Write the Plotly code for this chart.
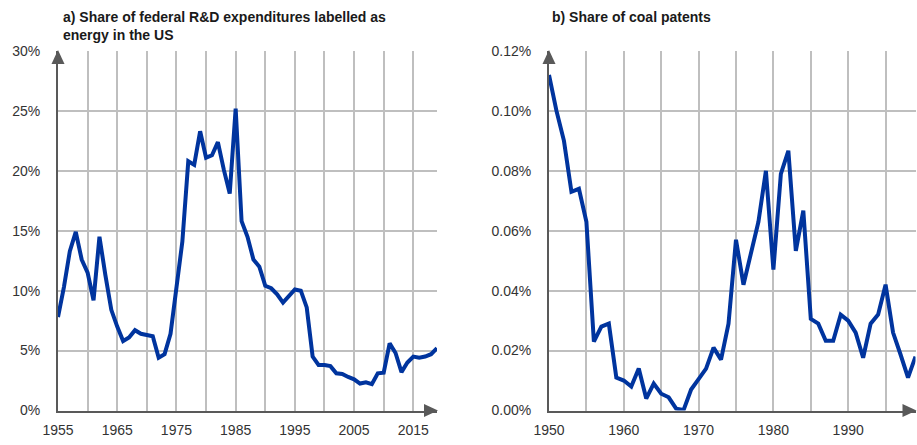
import plotly.graph_objects as go

# a) share of federal R&D expenditures labelled as energy (US), %
years_rd = list(range(1955, 2020))
share_rd = [
    7.8, 10.3, 13.3, 14.9, 12.6, 11.5, 9.2, 14.5, 11.3, 8.4,
    7.0, 5.8, 6.1, 6.7, 6.4, 6.3, 6.2, 4.4, 4.7, 6.4,
    10.5, 14.1, 20.8, 20.5, 23.3, 21.1, 21.3, 22.4, 20.1, 18.1,
    25.2, 15.8, 14.5, 12.6, 12.0, 10.4, 10.2, 9.7, 9.0, 9.5,
    10.1, 10.0, 8.6, 4.5, 3.8, 3.8, 3.7, 3.1, 3.05, 2.8,
    2.6, 2.25, 2.35, 2.2, 3.1, 3.15, 5.6, 4.8, 3.2, 4.0,
    4.5, 4.4, 4.5, 4.7, 5.2,
]

# b) share of coal patents, %
years_coal = list(range(1950, 2000))
share_coal = [
    0.112, 0.100, 0.090, 0.073, 0.074, 0.063, 0.023, 0.028, 0.029, 0.011,
    0.010, 0.008, 0.014, 0.004, 0.009, 0.0056, 0.0044, 0.0006, 0.0002, 0.007,
    0.0105, 0.014, 0.021, 0.017, 0.029, 0.057, 0.042, 0.052, 0.063, 0.080,
    0.047, 0.079, 0.0867, 0.0533, 0.0667, 0.0306, 0.029, 0.0233, 0.0233, 0.032,
    0.030, 0.026, 0.0176, 0.029, 0.032, 0.042, 0.026, 0.0187, 0.011, 0.018,
]

W, H = 917, 445
line_col = "#00349E"
grid_col = "#BFBFBF"
axis_col = "#595959"
font = "Liberation Sans, Arial, sans-serif"

# plot-area edges in pixels (body margin is removed below, so these are screen px)
L1, R1 = 58, 437
L2, R2 = 549, 915.5
TOP, BOT = 51, 410.5

fig = go.Figure()
fig.add_trace(go.Scatter(x=years_rd, y=share_rd, mode="lines",
                         line=dict(color=line_col, width=4), xaxis="x", yaxis="y"))
fig.add_trace(go.Scatter(x=years_coal, y=share_coal, mode="lines",
                         line=dict(color=line_col, width=4), xaxis="x2", yaxis="y2"))

ydom = [(H - BOT) / H, (H - TOP) / H]

def xax(dom, rng, t0, anchor):
    return dict(domain=dom, range=rng, tick0=t0, dtick=10, showgrid=True,
                gridcolor=grid_col, gridwidth=1.5, zeroline=False, anchor=anchor,
                showline=True, linecolor=axis_col, linewidth=2,
                ticks="", ticklabelstandoff=6, automargin=False,
                tickfont=dict(size=14, color="#333333"),
                minor=dict(tick0=t0, dtick=5, showgrid=True,
                           gridcolor=grid_col, gridwidth=1.5))

def yax(rng, dt, fmt, anchor):
    return dict(domain=ydom, range=rng, dtick=dt, tickformat=fmt, ticksuffix="%",
                showgrid=True, gridcolor=grid_col, gridwidth=1.5, zeroline=False,
                showline=True, linecolor=axis_col, linewidth=2, anchor=anchor,
                ticks="", ticklabelstandoff=13, automargin=False,
                tickfont=dict(size=14, color="#333333"))

fig.update_layout(
    width=W, height=H,
    margin=dict(l=0, r=0, t=0, b=0),
    paper_bgcolor="white", plot_bgcolor="white",
    showlegend=False,
    font=dict(family=font),
    xaxis=xax([L1 / W, R1 / W], [1955, 2019], 1955, "y"),
    yaxis=yax([0, 30], 5, "d", "x"),
    xaxis2=xax([L2 / W, R2 / W], [1950, 1999], 1950, "y2"),
    yaxis2=yax([0, 0.12], 0.02, ".2f", "x2"),
)

# arrowheads at the ends of the axes (paper coords == pixels / size)
def tri(pts):
    d = "M " + " L ".join(f"{px / W:.5f},{1 - py / H:.5f}" for px, py in pts) + " Z"
    fig.add_shape(type="path", xref="paper", yref="paper", path=d,
                  fillcolor=axis_col, line=dict(color=axis_col, width=0), layer="above")

for left, right in [(L1, R1), (L2, R2)]:
    tri([(right + 1, BOT), (right - 13, BOT - 6.5), (right - 13, BOT + 6.5)])
    tri([(left, TOP - 1), (left - 6.5, TOP + 13), (left + 6.5, TOP + 13)])

title_font = dict(family=font, size=14, color="#1a1a1a")
fig.add_annotation(xref="paper", yref="paper", x=61 / W, y=1 - 7 / H,
                   xanchor="left", yanchor="top", align="left", showarrow=False,
                   text="<b>a) Share of federal R&D expenditures labelled as<br>energy in the US</b>",
                   font=title_font)
fig.add_annotation(xref="paper", yref="paper", x=550 / W, y=1 - 7 / H,
                   xanchor="left", yanchor="top", align="left", showarrow=False,
                   text="<b>b) Share of coal patents</b>", font=title_font)

fig.write_html("out.html", config={"displayModeBar": False},
               post_script="document.body.style.margin='0';document.body.style.overflow='hidden';")
